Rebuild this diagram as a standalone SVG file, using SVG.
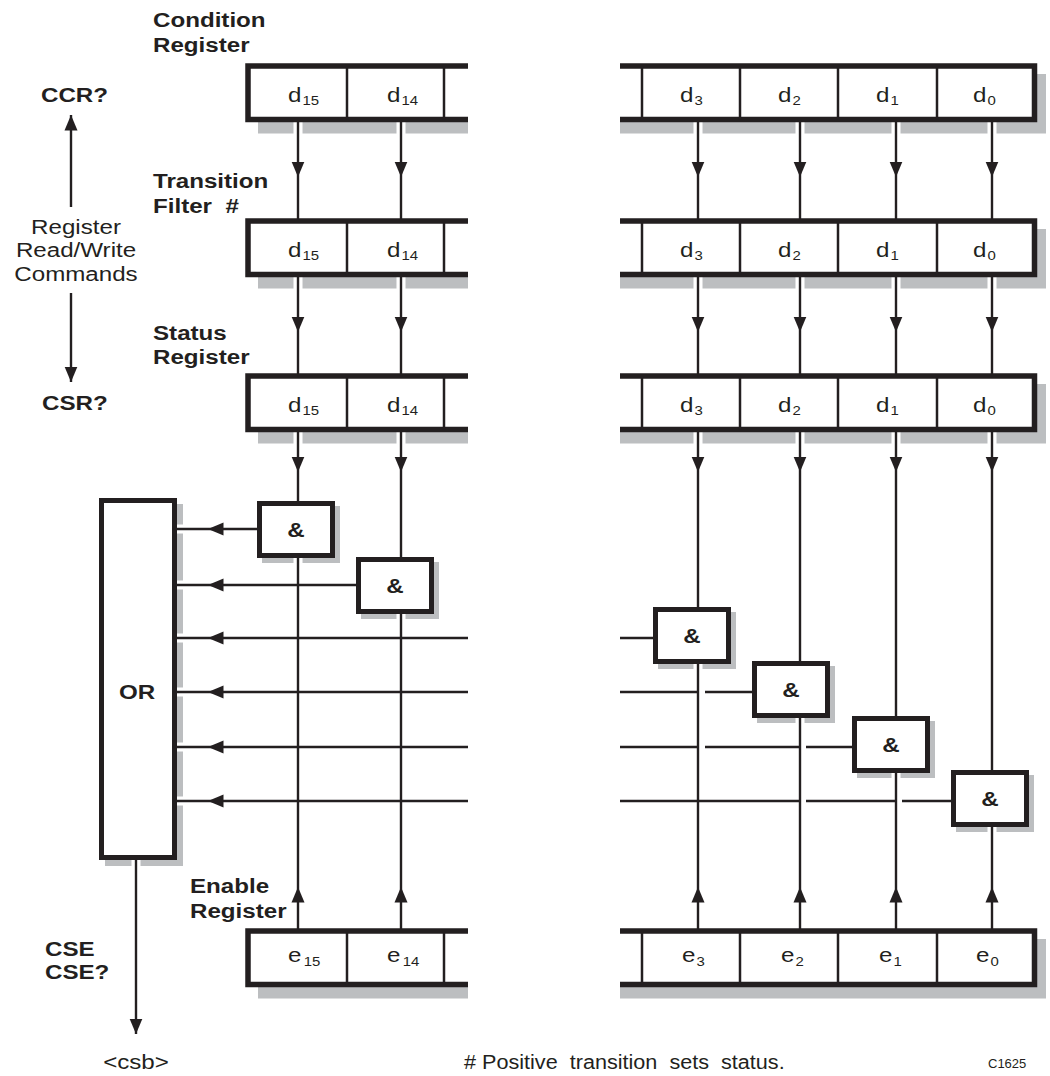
<svg xmlns="http://www.w3.org/2000/svg" width="1050" height="1076" viewBox="0 0 1050 1076">
<defs>
<style>
text{font-family:"Liberation Sans",Arial,Helvetica,sans-serif;fill:#231f20;font-size:21px}
.b{font-weight:bold}
.m{text-anchor:middle}
.sub{font-size:13px}
.sh{fill:#bcbec0}
.reg{fill:#fff;stroke:#231f20;stroke-width:5.5}
.div{stroke:#231f20;stroke-width:2.5}
.gate{fill:#fff;stroke:#231f20;stroke-width:5}
.c{fill:none;stroke:#231f20;stroke-width:2.4}
.a{marker-mid:url(#ah)}
.e{marker-end:url(#ah)}
.halo{fill:none;stroke:#fff;stroke-width:9}
</style>
<marker id="ah" markerUnits="userSpaceOnUse" markerWidth="16" markerHeight="14" viewBox="0 -7 16 14" refX="15.5" refY="0" orient="auto">
<path d="M0,-6.5 L15.5,0 L0,6.5 z" fill="#231f20"/>
</marker>
</defs>
<rect width="1050" height="1076" fill="#fff"/>

<g id="shadows">
<rect class="sh" x="258" y="74" width="210" height="59.5"/>
<rect class="sh" x="620" y="74" width="426" height="59.5"/>
<rect class="sh" x="258" y="229" width="210" height="59.5"/>
<rect class="sh" x="620" y="229" width="426" height="59.5"/>
<rect class="sh" x="258" y="384" width="210" height="59.5"/>
<rect class="sh" x="620" y="384" width="426" height="59.5"/>
<rect class="sh" x="258" y="939" width="210" height="59.5"/>
<rect class="sh" x="620" y="939" width="426" height="59.5"/>
<rect class="sh" x="105" y="504" width="78" height="362"/>
<rect class="sh" x="262" y="506" width="78" height="57"/>
<rect class="sh" x="361" y="562" width="78" height="57"/>
<rect class="sh" x="658" y="612" width="78" height="57"/>
<rect class="sh" x="757" y="666" width="78" height="57"/>
<rect class="sh" x="857" y="721" width="78" height="57"/>
<rect class="sh" x="956" y="775" width="78" height="57"/>
</g>

<g id="halo">
<path class="halo" d="M298,122V136M401,122V136M698,122V136M800,122V136M896,122V136M992,122V136
M298,277V291M401,277V291M698,277V291M800,277V291M896,277V291M992,277V291
M298,432V446M401,432V446M698,432V446M800,432V446M896,432V446M992,432V446
M298,558V566M401,614V622M698,664V672M800,718V726M896,773V781M992,827V835
M177,529H187M177,585H187M177,638H187M177,692H187M177,747H187M177,801H187M136,860V869"/>
</g>

<g id="connectors">
<path class="c a" d="M298,120V177V221"/>
<path class="c a" d="M401,120V177V221"/>
<path class="c a" d="M698,120V177V221"/>
<path class="c a" d="M800,120V177V221"/>
<path class="c a" d="M896,120V177V221"/>
<path class="c a" d="M992,120V177V221"/>
<path class="c a" d="M298,275V332V376"/>
<path class="c a" d="M401,275V332V376"/>
<path class="c a" d="M698,275V332V376"/>
<path class="c a" d="M800,275V332V376"/>
<path class="c a" d="M896,275V332V376"/>
<path class="c a" d="M992,275V332V376"/>
<path class="c a" d="M298,430V472V501"/>
<path class="c a" d="M401,430V472V557"/>
<path class="c a" d="M698,430V472V607"/>
<path class="c a" d="M800,430V472V661"/>
<path class="c a" d="M896,430V472V716"/>
<path class="c a" d="M992,430V472V770"/>
<path class="c a" d="M298,931V887V558"/>
<path class="c a" d="M401,931V887V614"/>
<path class="c a" d="M698,931V887V664"/>
<path class="c a" d="M800,931V887V718"/>
<path class="c a" d="M896,931V887V773"/>
<path class="c a" d="M992,931V887V827"/>
<path class="c a" d="M257,529H208H177"/>
<path class="c a" d="M356,585H208H177"/>
<path class="c a" d="M468,638H208H177"/>
<path class="c a" d="M468,692H208H177"/>
<path class="c a" d="M468,747H208H177"/>
<path class="c a" d="M468,801H208H177"/>
<path class="c" d="M620,638H653"/>
<path class="c" d="M620,692H698M705,692H752"/>
<path class="c" d="M620,747H698M705,747H800M806,747H852"/>
<path class="c" d="M620,801H800M806,801H896M902,801H951"/>
<path class="c e" d="M71,207V115"/>
<path class="c e" d="M71,293V382"/>
<path class="c e" d="M136,860V1034"/>
</g>

<g id="condition-register">
<path class="reg" d="M468,66H248V119.5H468"/>
<line class="div" x1="347" y1="66" x2="347" y2="119.5"/>
<line class="div" x1="444" y1="66" x2="444" y2="119.5"/>
<path class="reg" d="M620,66H1034.5V119.5H620"/>
<line class="div" x1="642" y1="66" x2="642" y2="119.5"/>
<line class="div" x1="740" y1="66" x2="740" y2="119.5"/>
<line class="div" x1="838" y1="66" x2="838" y2="119.5"/>
<line class="div" x1="937" y1="66" x2="937" y2="119.5"/>
<text transform="translate(288,102) scale(1.15,1)">d<tspan class="sub" dx="1" dy="3">15</tspan></text>
<text transform="translate(387,102) scale(1.15,1)">d<tspan class="sub" dx="1" dy="3">14</tspan></text>
<text transform="translate(680,102) scale(1.15,1)">d<tspan class="sub" dx="1" dy="3">3</tspan></text>
<text transform="translate(778,102) scale(1.15,1)">d<tspan class="sub" dx="1" dy="3">2</tspan></text>
<text transform="translate(876,102) scale(1.15,1)">d<tspan class="sub" dx="1" dy="3">1</tspan></text>
<text transform="translate(973,102) scale(1.15,1)">d<tspan class="sub" dx="1" dy="3">0</tspan></text>
<text class="b" transform="translate(153,27) scale(1.15,1)">Condition</text>
<text class="b" transform="translate(153,52) scale(1.15,1)">Register</text>
</g>

<g id="transition-filter">
<path class="reg" d="M468,221H248V274.5H468"/>
<line class="div" x1="347" y1="221" x2="347" y2="274.5"/>
<line class="div" x1="444" y1="221" x2="444" y2="274.5"/>
<path class="reg" d="M620,221H1034.5V274.5H620"/>
<line class="div" x1="642" y1="221" x2="642" y2="274.5"/>
<line class="div" x1="740" y1="221" x2="740" y2="274.5"/>
<line class="div" x1="838" y1="221" x2="838" y2="274.5"/>
<line class="div" x1="937" y1="221" x2="937" y2="274.5"/>
<text transform="translate(288,257) scale(1.15,1)">d<tspan class="sub" dx="1" dy="3">15</tspan></text>
<text transform="translate(387,257) scale(1.15,1)">d<tspan class="sub" dx="1" dy="3">14</tspan></text>
<text transform="translate(680,257) scale(1.15,1)">d<tspan class="sub" dx="1" dy="3">3</tspan></text>
<text transform="translate(778,257) scale(1.15,1)">d<tspan class="sub" dx="1" dy="3">2</tspan></text>
<text transform="translate(876,257) scale(1.15,1)">d<tspan class="sub" dx="1" dy="3">1</tspan></text>
<text transform="translate(973,257) scale(1.15,1)">d<tspan class="sub" dx="1" dy="3">0</tspan></text>
<text class="b" transform="translate(153,188) scale(1.15,1)">Transition</text>
<text class="b" transform="translate(153,213) scale(1.15,1)" xml:space="preserve">Filter  #</text>
</g>

<g id="status-register">
<path class="reg" d="M468,376H248V429.5H468"/>
<line class="div" x1="347" y1="376" x2="347" y2="429.5"/>
<line class="div" x1="444" y1="376" x2="444" y2="429.5"/>
<path class="reg" d="M620,376H1034.5V429.5H620"/>
<line class="div" x1="642" y1="376" x2="642" y2="429.5"/>
<line class="div" x1="740" y1="376" x2="740" y2="429.5"/>
<line class="div" x1="838" y1="376" x2="838" y2="429.5"/>
<line class="div" x1="937" y1="376" x2="937" y2="429.5"/>
<text transform="translate(288,412) scale(1.15,1)">d<tspan class="sub" dx="1" dy="3">15</tspan></text>
<text transform="translate(387,412) scale(1.15,1)">d<tspan class="sub" dx="1" dy="3">14</tspan></text>
<text transform="translate(680,412) scale(1.15,1)">d<tspan class="sub" dx="1" dy="3">3</tspan></text>
<text transform="translate(778,412) scale(1.15,1)">d<tspan class="sub" dx="1" dy="3">2</tspan></text>
<text transform="translate(876,412) scale(1.15,1)">d<tspan class="sub" dx="1" dy="3">1</tspan></text>
<text transform="translate(973,412) scale(1.15,1)">d<tspan class="sub" dx="1" dy="3">0</tspan></text>
<text class="b" transform="translate(153,340) scale(1.15,1)">Status</text>
<text class="b" transform="translate(153,364) scale(1.15,1)">Register</text>
</g>

<g id="enable-register">
<path class="reg" d="M468,931H248V984.5H468"/>
<line class="div" x1="347" y1="931" x2="347" y2="984.5"/>
<line class="div" x1="444" y1="931" x2="444" y2="984.5"/>
<path class="reg" d="M620,931H1034.5V984.5H620"/>
<line class="div" x1="642" y1="931" x2="642" y2="984.5"/>
<line class="div" x1="740" y1="931" x2="740" y2="984.5"/>
<line class="div" x1="838" y1="931" x2="838" y2="984.5"/>
<line class="div" x1="937" y1="931" x2="937" y2="984.5"/>
<text transform="translate(288,962) scale(1.15,1)">e<tspan class="sub" dx="2" dy="4">15</tspan></text>
<text transform="translate(387,962) scale(1.15,1)">e<tspan class="sub" dx="2" dy="4">14</tspan></text>
<text transform="translate(682,962) scale(1.15,1)">e<tspan class="sub" dx="1" dy="4">3</tspan></text>
<text transform="translate(781,962) scale(1.15,1)">e<tspan class="sub" dx="1" dy="4">2</tspan></text>
<text transform="translate(879,962) scale(1.15,1)">e<tspan class="sub" dx="1" dy="4">1</tspan></text>
<text transform="translate(976,962) scale(1.15,1)">e<tspan class="sub" dx="1" dy="4">0</tspan></text>
<text class="b" transform="translate(190,893) scale(1.15,1)">Enable</text>
<text class="b" transform="translate(190,918) scale(1.15,1)">Register</text>
</g>

<g id="gate-15"><rect class="gate" x="259.5" y="503.5" width="73" height="52"/><text class="b m" transform="translate(296,537) scale(1.15,1)">&amp;</text></g>
<g id="gate-14"><rect class="gate" x="358.5" y="559.5" width="73" height="52"/><text class="b m" transform="translate(395,593) scale(1.15,1)">&amp;</text></g>
<g id="gate-3"><rect class="gate" x="655.5" y="609.5" width="73" height="52"/><text class="b m" transform="translate(692,643) scale(1.15,1)">&amp;</text></g>
<g id="gate-2"><rect class="gate" x="754.5" y="663.5" width="73" height="52"/><text class="b m" transform="translate(791,697) scale(1.15,1)">&amp;</text></g>
<g id="gate-1"><rect class="gate" x="854.5" y="718.5" width="73" height="52"/><text class="b m" transform="translate(891,752) scale(1.15,1)">&amp;</text></g>
<g id="gate-0"><rect class="gate" x="953.5" y="772.5" width="73" height="52"/><text class="b m" transform="translate(990,806) scale(1.15,1)">&amp;</text></g>

<g id="or-gate">
<rect class="gate" x="101.5" y="500.5" width="73" height="357"/>
<text class="b m" transform="translate(137,699) scale(1.15,1)">OR</text>
</g>

<g id="labels">
<text class="b" transform="translate(41,102) scale(1.15,1)">CCR?</text>
<text class="b" transform="translate(42,410) scale(1.15,1)">CSR?</text>
<text class="m" transform="translate(76,234) scale(1.15,1)">Register</text>
<text class="m" transform="translate(76,257) scale(1.15,1)">Read/Write</text>
<text class="m" transform="translate(76,281) scale(1.15,1)">Commands</text>
<text class="b" transform="translate(45,956) scale(1.15,1)">CSE</text>
<text class="b" transform="translate(45,979) scale(1.15,1)">CSE?</text>
<text class="m" transform="translate(136,1069) scale(1.15,1)">&lt;csb&gt;</text>
<text transform="translate(464,1069) scale(1.03,1)" xml:space="preserve"># Positive  transition  sets  status.</text>
<text x="988" y="1068" style="font-size:13px">C1625</text>
</g>
</svg>
